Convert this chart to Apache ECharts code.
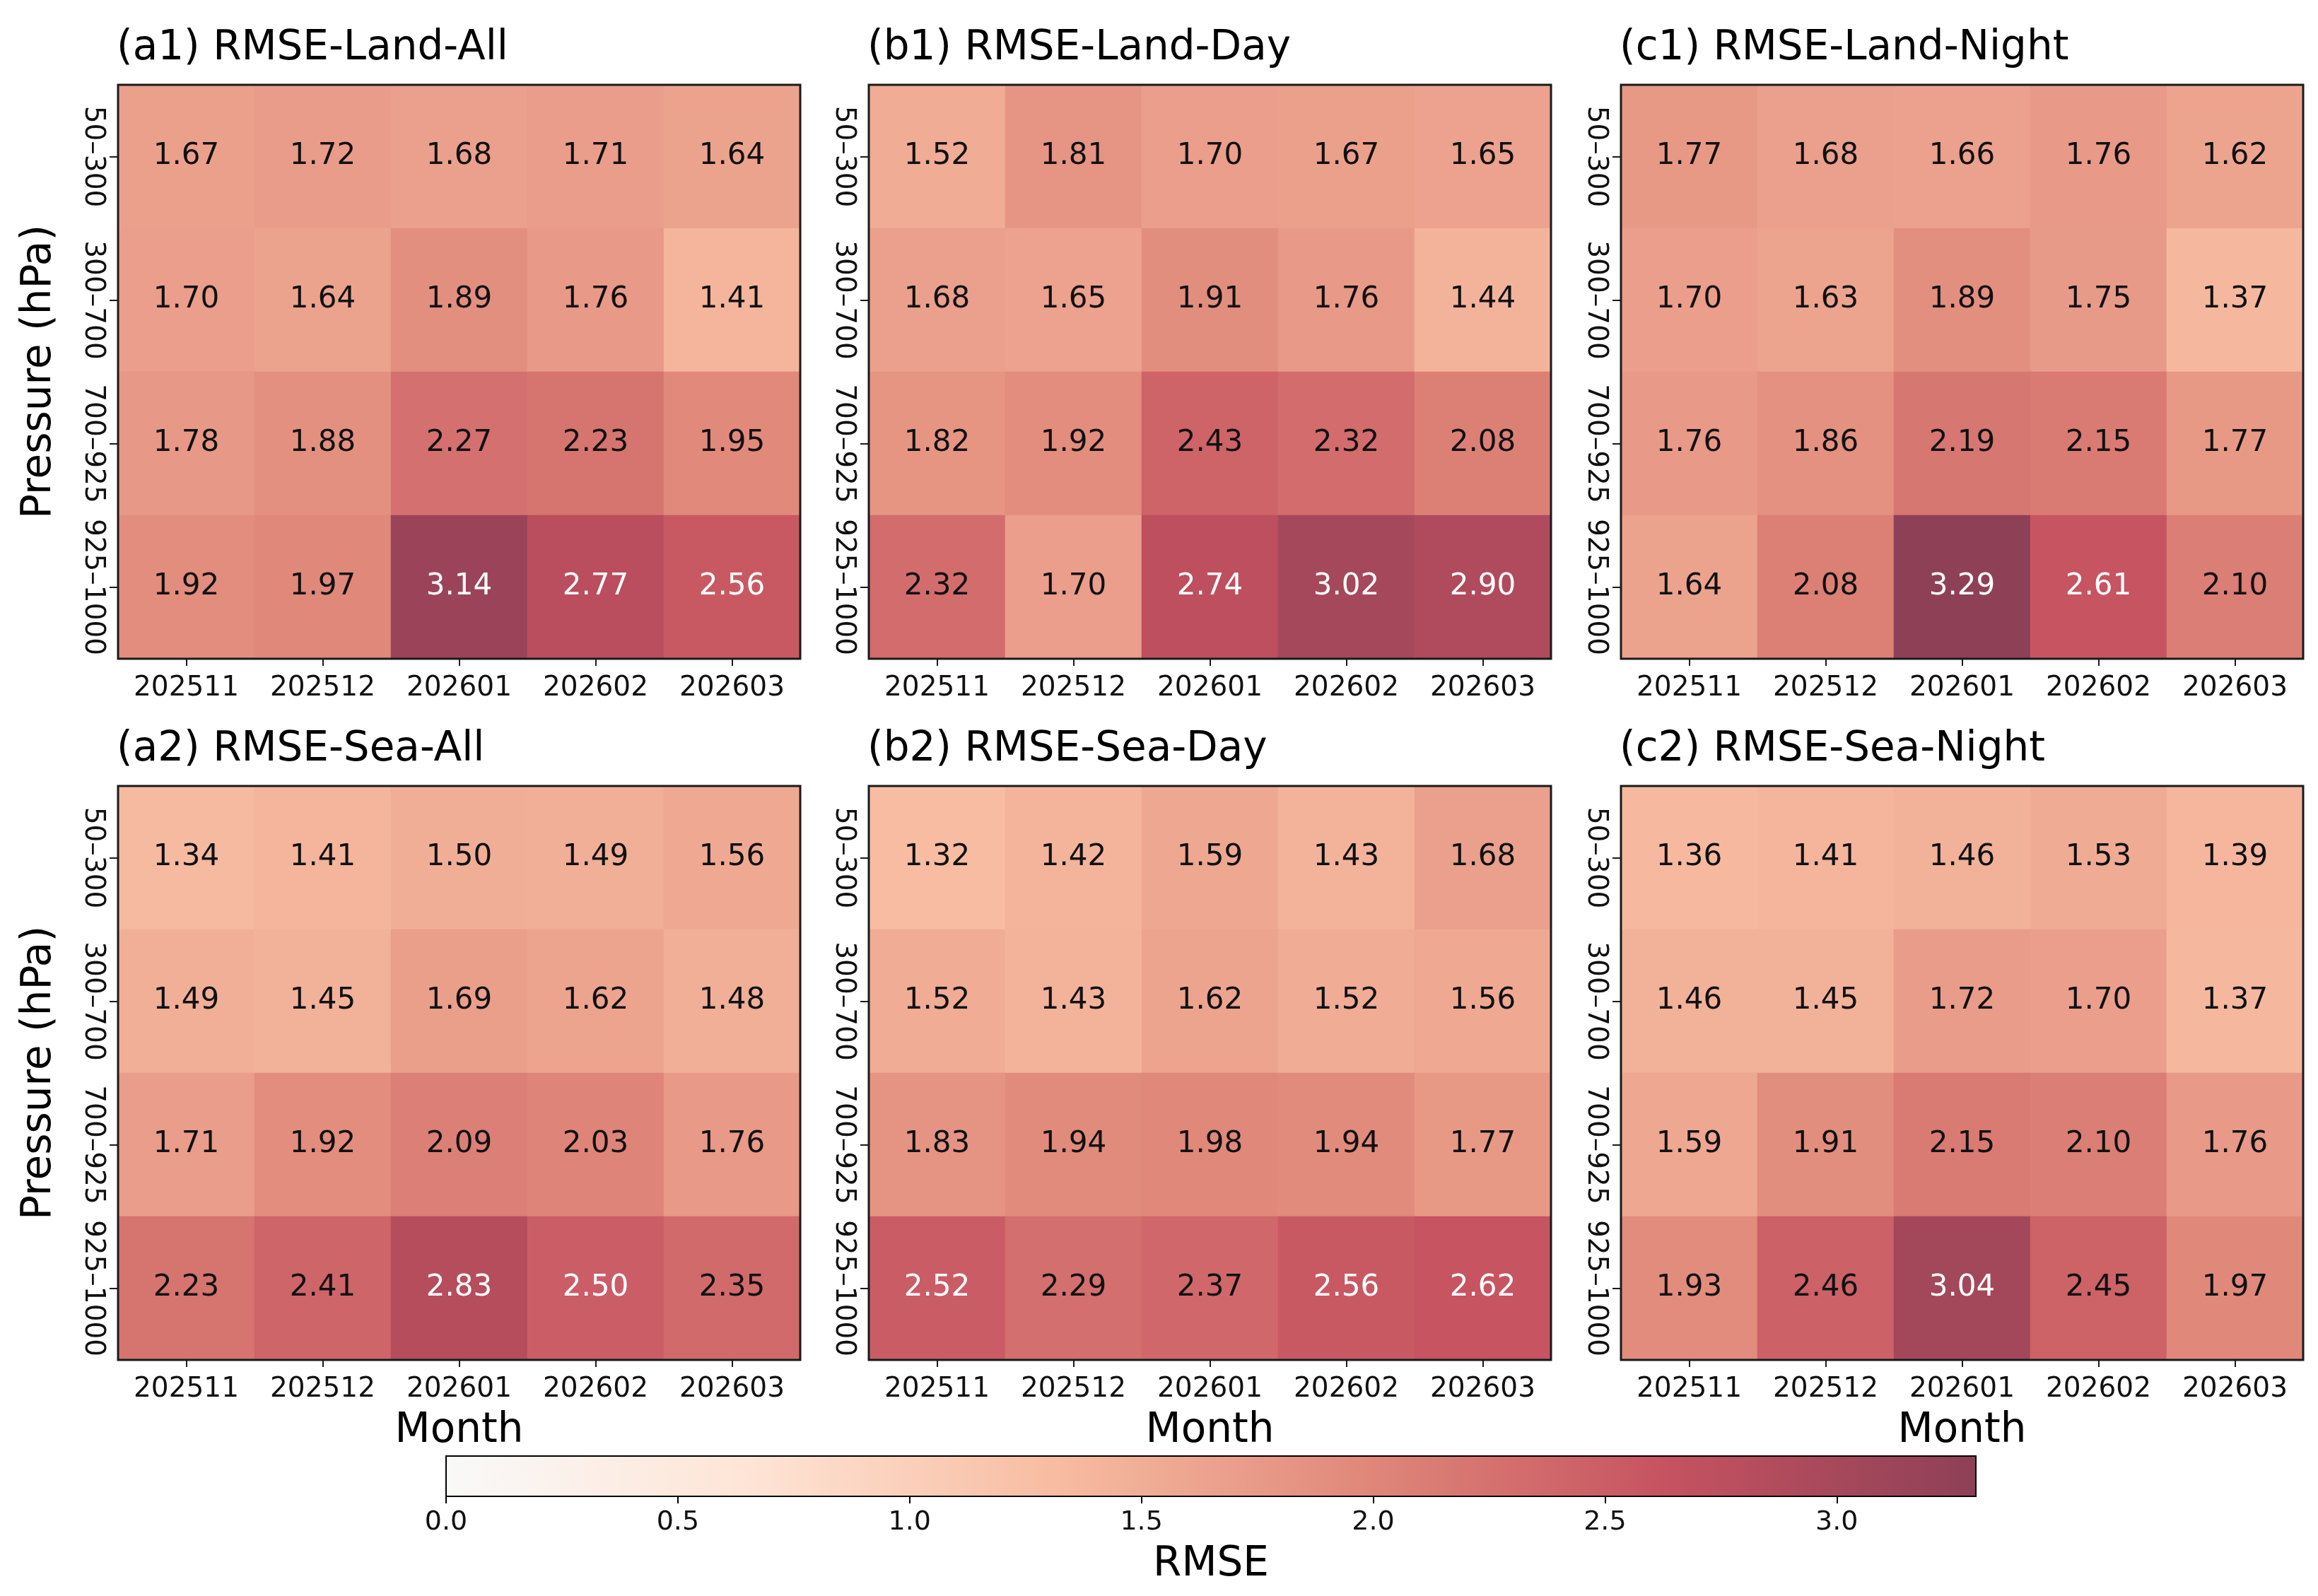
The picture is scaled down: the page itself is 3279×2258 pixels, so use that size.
<!DOCTYPE html>
<html>
<head>
<meta charset="utf-8">
<script src="https://cdn.jsdelivr.net/npm/echarts@6/dist/echarts.min.js"></script>
<style>
html,body{margin:0;padding:0;background:#fff;}
#chart{width:3279px;height:2258px;}
</style>
</head>
<body>
<div id="chart"></div>
<script>
// ---------------- DATA ----------------
const months = ['202511', '202512', '202601', '202602', '202603'];
const levels = ['50–300', '300–700', '700–925', '925–1000'];
const colorbarTicks = [0, 0.5, 1.0, 1.5, 2.0, 2.5, 3.0];

const landAll = [
  [1.67, 1.72, 1.68, 1.71, 1.64],
  [1.70, 1.64, 1.89, 1.76, 1.41],
  [1.78, 1.88, 2.27, 2.23, 1.95],
  [1.92, 1.97, 3.14, 2.77, 2.56]
];
const landDay = [
  [1.52, 1.81, 1.70, 1.67, 1.65],
  [1.68, 1.65, 1.91, 1.76, 1.44],
  [1.82, 1.92, 2.43, 2.32, 2.08],
  [2.32, 1.70, 2.74, 3.02, 2.90]
];
const landNight = [
  [1.77, 1.68, 1.66, 1.76, 1.62],
  [1.70, 1.63, 1.89, 1.75, 1.37],
  [1.76, 1.86, 2.19, 2.15, 1.77],
  [1.64, 2.08, 3.29, 2.61, 2.10]
];
const seaAll = [
  [1.34, 1.41, 1.50, 1.49, 1.56],
  [1.49, 1.45, 1.69, 1.62, 1.48],
  [1.71, 1.92, 2.09, 2.03, 1.76],
  [2.23, 2.41, 2.83, 2.50, 2.35]
];
const seaDay = [
  [1.32, 1.42, 1.59, 1.43, 1.68],
  [1.52, 1.43, 1.62, 1.52, 1.56],
  [1.83, 1.94, 1.98, 1.94, 1.77],
  [2.52, 2.29, 2.37, 2.56, 2.62]
];
const seaNight = [
  [1.36, 1.41, 1.46, 1.53, 1.39],
  [1.46, 1.45, 1.72, 1.70, 1.37],
  [1.59, 1.91, 2.15, 2.10, 1.76],
  [1.93, 2.46, 3.04, 2.45, 1.97]
];
const panelTitles = [
  '(a1) RMSE-Land-All', '(b1) RMSE-Land-Day', '(c1) RMSE-Land-Night',
  '(a2) RMSE-Sea-All', '(b2) RMSE-Sea-Day', '(c2) RMSE-Sea-Night'
];
const panelData = [landAll, landDay, landNight, seaAll, seaDay, seaNight];
const vmin = 0, vmax = 3.3;

// ---------------- STYLE / LAYOUT ----------------
const FONT = 'DejaVu Sans';
const cmap = ['#f9f9f9', '#fee4d5', '#f7bca1', '#e0887a', '#c55260', '#8d4057'];
const colLeft = [167, 1229, 2293];
const rowTop = [120, 1112];
const PW = 965, PH = 812;

const chart = echarts.init(document.getElementById('chart'), null, {renderer: 'canvas'});

const grids = [], xAxes = [], yAxes = [], series = [], titles = [];
panelData.forEach((mat, p) => {
  const r = Math.floor(p / 3), c = p % 3;
  grids.push({
    left: colLeft[c], top: rowTop[r], width: PW, height: PH,
    show: true, backgroundColor: 'transparent', borderColor: '#1a1a1a', borderWidth: 3, z: 10
  });
  xAxes.push({
    type: 'category', gridIndex: p, data: months,
    axisLine: {show: false},
    axisTick: {show: true, interval: 0, alignWithLabel: true, length: 10, lineStyle: {color: '#1a1a1a', width: 2}},
    axisLabel: {interval: 0, fontFamily: FONT, fontSize: 39, color: '#111', margin: 22},
    splitLine: {show: false},
    name: r === 1 ? 'Month' : '', nameLocation: 'middle', nameGap: 72,
    nameTextStyle: {fontFamily: FONT, fontSize: 58, color: '#000'}
  });
  yAxes.push({
    type: 'category', gridIndex: p, data: levels, inverse: true,
    axisLine: {show: false},
    axisTick: {show: true, interval: 0, alignWithLabel: true, length: 12, lineStyle: {color: '#1a1a1a', width: 2}},
    axisLabel: {interval: 0, fontFamily: FONT, fontSize: 39, color: '#111', rotate: -90, margin: 16},
    splitLine: {show: false},
    name: c === 0 ? 'Pressure (hPa)' : '', nameLocation: 'middle', nameGap: 82, nameRotate: 90,
    nameTextStyle: {fontFamily: FONT, fontSize: 58, color: '#000'}
  });
  const data = [];
  mat.forEach((row, yi) => row.forEach((v, xi) => {
    data.push({value: [xi, yi, v], label: {color: v >= 2.5 ? '#ffffff' : '#111111'}});
  }));
  series.push({
    type: 'heatmap', xAxisIndex: p, yAxisIndex: p, data: data,
    label: {show: true, fontFamily: FONT, fontSize: 42, formatter: d => d.value[2].toFixed(2)},
    emphasis: {disabled: true}, progressive: 0
  });
  titles.push({
    text: panelTitles[p], left: colLeft[c] - 2, top: rowTop[r] - 80, padding: 0,
    textStyle: {fontFamily: FONT, fontSize: 58, fontWeight: 'normal', color: '#000'}
  });
});

// colorbar grid
const cbIndex = panelData.length;
const cbStops = cmap.map((col, i) => ({offset: i / (cmap.length - 1), color: col}));
grids.push({
  left: 631, top: 2060, width: 2164, height: 57,
  show: true,
  backgroundColor: new echarts.graphic.LinearGradient(0, 0, 1, 0, cbStops),
  borderColor: '#000', borderWidth: 2, z: 10
});
xAxes.push({
  type: 'value', gridIndex: cbIndex, min: vmin, max: vmax,
  axisLine: {show: false},
  axisTick: {show: true, length: 10, lineStyle: {color: '#000', width: 2}, customValues: colorbarTicks},
  axisLabel: {fontFamily: FONT, fontSize: 38, color: '#111', margin: 18,
    customValues: colorbarTicks, formatter: v => v.toFixed(1)},
  splitLine: {show: false},
  name: 'RMSE', nameLocation: 'middle', nameGap: 68,
  nameTextStyle: {fontFamily: FONT, fontSize: 58, color: '#000'}
});
yAxes.push({type: 'value', gridIndex: cbIndex, show: false, min: 0, max: 1});

chart.setOption({
  backgroundColor: '#ffffff',
  animation: false,
  title: titles,
  grid: grids,
  xAxis: xAxes,
  yAxis: yAxes,
  visualMap: {
    show: false, type: 'continuous', min: vmin, max: vmax,
    seriesIndex: series.map((s, i) => i),
    inRange: {color: cmap}
  },
  series: series
});
</script>
</body>
</html>
